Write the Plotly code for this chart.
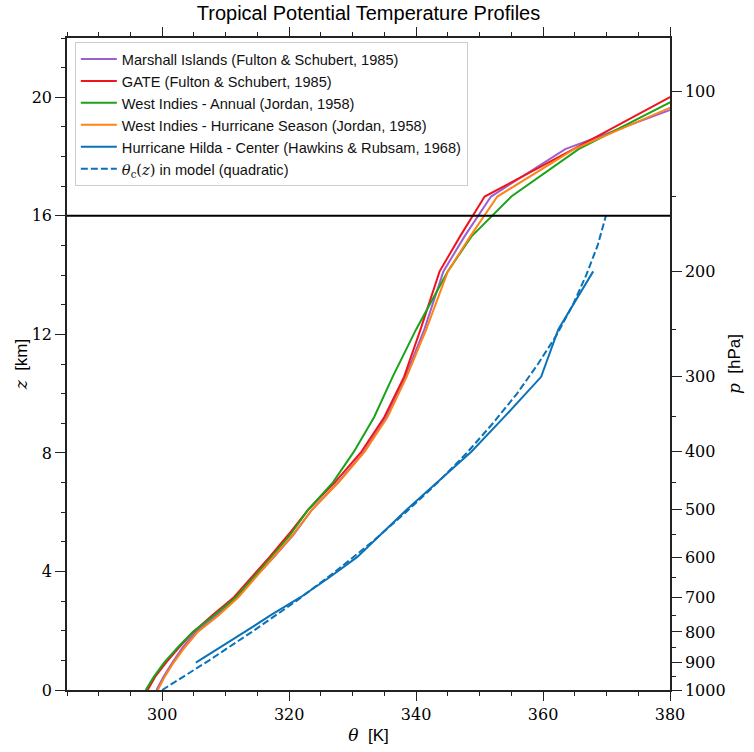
import numpy as np
import plotly.graph_objects as go

# ---------------- data ----------------
# pressure levels (hPa) of the soundings
levels = [1000, 950, 900, 850, 800, 750, 700, 650, 600, 550, 500, 450,
          400, 350, 300, 250, 200, 175, 150, 125, 100]

theta_marshall = [299.1, 300.2, 301.6, 303.2, 305.3, 308.6, 311.8, 314.5, 317.6, 320.7, 323.6, 327.7,
                  331.8, 335.3, 338.3, 341.3, 344.3, 347.6, 351.8, 363.5, 388.0]
theta_gate = [297.7, 298.9, 300.6, 302.6, 304.9, 307.9, 311.3, 314.0, 316.9, 319.9, 323.0, 327.2,
              331.4, 335.0, 338.1, 340.7, 343.7, 346.9, 350.8, 364.8, 381.8]
theta_wi_annual = [297.4, 298.7, 300.3, 302.4, 304.8, 308.2, 311.6, 314.3, 317.2, 320.2, 323.0, 326.9,
                   330.2, 333.4, 336.3, 340.0, 345.0, 348.7, 355.0, 365.6, 383.5]
theta_wi_hurr = [299.3, 300.4, 301.8, 303.5, 305.6, 308.9, 312.0, 314.6, 317.5, 320.6, 323.6, 327.8,
                 331.9, 335.5, 338.5, 341.6, 345.0, 348.5, 352.8, 364.9, 386.1]

hilda_levels = [900, 850, 800, 750, 700, 650, 600, 500, 400, 350, 300, 250, 200]
theta_hilda = [305.3, 309.1, 313.0, 317.1, 321.8, 326.2, 330.7, 338.5, 348.7, 353.9, 359.7, 362.4, 367.9]

# model profile theta_c(z)
model_z = [0, 1, 2, 3, 4, 5, 6, 7, 8, 9, 10, 11, 12, 13, 14, 15, 16]
model_theta = [300.0, 307.4, 314.4, 321.1, 327.3, 333.1, 338.4, 343.4, 348.0, 352.1,
               355.9, 359.2, 362.2, 364.7, 366.8, 368.6, 369.9]

z_top = 16  # model top (km)

p_major = [100, 200, 300, 400, 500, 600, 700, 800, 900, 1000]
p_minor = [150, 250, 350, 450, 550, 650, 750, 850, 950]

# height of pressure levels: z = H ln(p0/p), H = R*T0/g
H_km = 287.0 * 300.0 / 9.81 / 1000.0


def z_of_p(p):
    return list(H_km * np.log(1000.0 / np.asarray(p, dtype=float)))


# ---------------- figure ----------------
SANS = "Liberation Sans, Arial, sans-serif"
SERIF = "DejaVu Serif, serif"
AX = "#222222"

series = [
    ("Marshall Islands (Fulton &amp; Schubert, 1985)", levels, theta_marshall, "#9b5fcf", "solid"),
    ("GATE (Fulton &amp; Schubert, 1985)", levels, theta_gate, "#f0141e", "solid"),
    ("West Indies - Annual (Jordan, 1958)", levels, theta_wi_annual, "#1aa31a", "solid"),
    ("West Indies - Hurricane Season (Jordan, 1958)", levels, theta_wi_hurr, "#ff8214", "solid"),
    ("Hurricane Hilda - Center (Hawkins &amp; Rubsam, 1968)", hilda_levels, theta_hilda, "#0b72b8", "solid"),
]

fig = go.Figure()
for name, p, th, col, dash in series:
    fig.add_trace(go.Scatter(x=th, y=z_of_p(p), mode="lines", name=name,
                             line=dict(color=col, width=2, dash=dash)))

fig.add_trace(go.Scatter(x=model_theta, y=model_z, mode="lines",
                         name="<span style='font-family:DejaVu Serif'><i>θ</i><sub>c</sub>(<i>z</i>)</span> in model (quadratic)",
                         line=dict(color="#0b72b8", width=2, dash="7px,3px")))

# trace bound to the pressure axis so that it is drawn
fig.add_trace(go.Scatter(x=theta_hilda, y=z_of_p(hilda_levels), yaxis="y2", mode="lines",
                         line=dict(width=0, color="rgba(0,0,0,0)"),
                         showlegend=False, hoverinfo="skip"))

fig.add_hline(y=z_top, line=dict(color="black", width=2))

fig.update_layout(
    width=754, height=752,
    margin=dict(l=67, r=84, t=38, b=62, autoexpand=False),
    paper_bgcolor="white", plot_bgcolor="white",
    font=dict(family=SANS, size=15, color="black"),
    title=dict(text="Tropical Potential Temperature Profiles", x=0.5, xref="paper",
               xanchor="center", y=0.983, yanchor="middle", automargin=False,
               font=dict(family=SANS, size=20, color="black")),
    showlegend=True,
    legend=dict(x=0.013, y=0.994, xanchor="left", yanchor="top",
                bgcolor="white", bordercolor="#cccccc", borderwidth=1,
                font=dict(family=SANS, size=14.6, color="#111"),
                tracegroupgap=0, itemwidth=36),
    xaxis=dict(range=[285, 380], tickvals=[300, 320, 340, 360, 380], automargin=False,
               ticks="outside", ticklen=9, tickwidth=1.2, tickcolor=AX,
               minor=dict(dtick=5, tick0=0, ticks="outside", ticklen=4, tickcolor=AX, tickwidth=1),
               showline=True, linecolor=AX, linewidth=1.5, mirror="ticks",
               showgrid=False, zeroline=False,
               tickfont=dict(family=SERIF, size=16, color="black"),
               title=dict(text="<span style='font-family:DejaVu Serif'><i>θ</i></span>  [K]",
                          font=dict(family=SANS, size=17), standoff=6)),
    yaxis=dict(range=[0, 22], tickvals=[0, 4, 8, 12, 16, 20], automargin=False,
               ticks="outside", ticklen=10, tickwidth=1.2, tickcolor=AX,
               minor=dict(dtick=1, tick0=0, ticks="outside", ticklen=4, tickcolor=AX, tickwidth=1),
               showline=True, linecolor=AX, linewidth=1.5, mirror=False,
               showgrid=False, zeroline=False,
               tickfont=dict(family=SERIF, size=16, color="black"),
               title=dict(text="<span style='font-family:DejaVu Serif'><i>z</i></span>  [km]",
                          font=dict(family=SANS, size=17), standoff=0)),
    yaxis2=dict(range=[0, 22], overlaying="y", side="right", automargin=False,
                tickmode="array", tickvals=z_of_p(p_major), ticktext=[str(v) for v in p_major],
                ticks="outside", ticklen=10, tickwidth=1.2, tickcolor=AX,
                minor=dict(tickmode="array", tickvals=z_of_p(p_minor), ticks="outside",
                           ticklen=4, tickcolor=AX, tickwidth=1),
                showline=True, linecolor=AX, linewidth=1.5,
                showgrid=False, zeroline=False,
                tickfont=dict(family=SERIF, size=16, color="black"),
                title=dict(text="<span style='font-family:DejaVu Serif'><i>p</i></span>  [hPa]",
                           font=dict(family=SANS, size=17), standoff=3)),
)

fig.write_html("out.html", config={"displayModeBar": False},
               post_script="document.body.style.margin='0';document.body.style.padding='0';"
                           "document.body.style.overflow='hidden';")
